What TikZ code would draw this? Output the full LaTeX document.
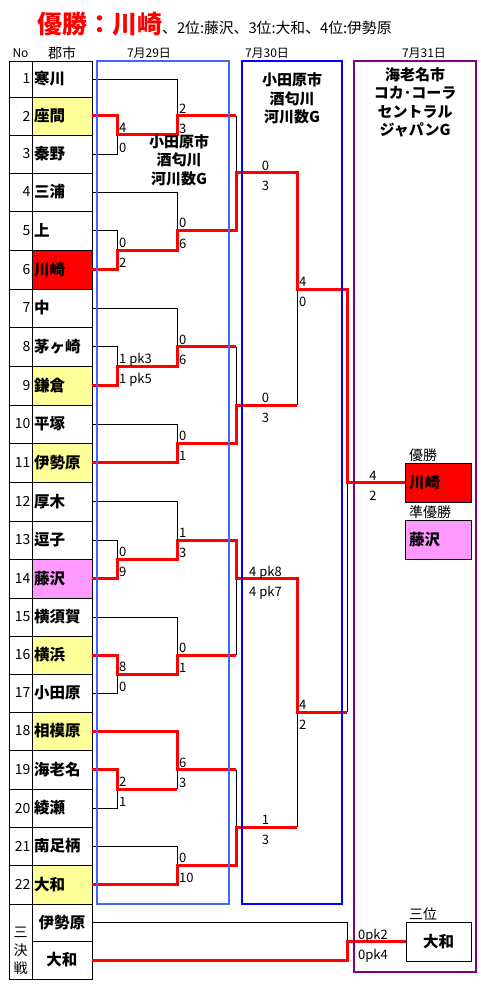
\documentclass[tikz,border=0pt]{standalone}
\usepackage{fontspec}
\setmainfont{Noto Sans CJK JP}
\definecolor{yel}{RGB}{255,255,153}
\definecolor{pnk}{RGB}{255,153,255}
\definecolor{rblue}{RGB}{68,102,255}
\definecolor{dblue}{RGB}{0,0,255}
\definecolor{purp}{RGB}{128,0,128}
\begin{document}
\begin{tikzpicture}[x=1pt,y=-1pt,
  namecell/.style={draw, line width=0.8pt, minimum width=60pt, text width=56pt, inner xsep=2pt, inner ysep=0pt, align=left, font=\bfseries\fontsize{15.5}{15.5}\selectfont},
  numcell/.style={draw, line width=0.8pt, minimum width=23pt, text width=20pt, inner xsep=1.5pt, inner ysep=0pt, align=right, font=\fontsize{14}{14}\selectfont},
  win/.style={draw=red, line width=3pt, line join=miter},
  lose/.style={draw=black, line width=0.9pt},
  sc/.style={font=\fontsize{13}{13}\selectfont, inner sep=0pt},
  hd/.style={font=\fontsize{12}{12}\selectfont, inner sep=0pt},
  glabel/.style={font=\bfseries\fontsize{15}{18.5}\selectfont, align=center, inner sep=0pt},
  daybox/.style={line width=2pt, inner sep=0pt},
  reslabel/.style={font=\fontsize{14}{14}\selectfont, inner sep=0pt, anchor=base west},
  resbox/.style={draw, line width=0.8pt, minimum width=65pt, minimum height=39pt, inner ysep=0pt, font=\bfseries\fontsize{15.5}{15.5}\selectfont}
]
\useasboundingbox (0,0) rectangle (480,984);

% title
\node[anchor=base west, inner sep=0pt] (title) at (37,34)
  {{\color{red}\bfseries\fontsize{25}{25}\selectfont 優勝：川崎}{\fontsize{14.8}{15}\selectfont 、2位:藤沢、3位:大和、4位:伊勢原}};

% headers
\node[hd] (hno) at (20.5,53) {No};
\node[hd, font=\fontsize{14}{14}\selectfont] (hcity) at (62,53) {郡市};
\node[hd] (hd1) at (149,53) {7月29日};
\node[hd] (hd2) at (267,53) {7月30日};
\node[hd] (hd3) at (424,53) {7月31日};

% table
\foreach \i/\c/\h/\nm/\f in {1/79/36/寒川/white, 2/116/38/座間/yel, 3/154/38/秦野/white,
  4/192/38/三浦/white, 5/230.5/39/上/white, 6/269.5/39/川崎/red, 7/308/38/中/white,
  8/346.5/39/茅ヶ崎/white, 9/385.5/39/鎌倉/yel, 10/424/38/平塚/white, 11/462.5/39/伊勢原/yel,
  12/501.5/39/厚木/white, 13/540/38/逗子/white, 14/578.5/39/藤沢/pnk, 15/617/38/横須賀/white,
  16/655/38/横浜/yel, 17/693/38/小田原/white, 18/731/38/相模原/yel, 19/769.5/39/海老名/white,
  20/808/38/綾瀬/white, 21/846/38/南足柄/white, 22/884.5/39/大和/yel}
{
  \node[namecell, fill=\f, minimum height=\h pt] (t\i) at (62,\c) {\nm};
  \node[numcell, minimum height=\h pt] (n\i) at (20.5,\c) {\i};
}
\node[namecell, align=center, minimum height=37pt] (t23) at (62,922.5) {伊勢原};
\node[namecell, align=center, minimum height=38pt] (t24) at (62,960) {大和};
\node[draw, line width=0.8pt, minimum width=23pt, minimum height=75pt, inner sep=0pt] (sk) at (20.5,941.5) {};
\node[font=\fontsize{14}{18}\selectfont, align=center, inner sep=0pt] (sktext) at (20.5,951) {三\\決\\戦};

% result boxes
\node[resbox, fill=red, text width=59pt, align=left] (champ) at (438.5,482.5) {川崎};
\node[resbox, fill=pnk, text width=59pt, align=left] (runner) at (438.5,540) {藤沢};
\node[resbox, fill=white] (third) at (438.5,941.5) {大和};
\node[reslabel] (lchamp) at (409,460) {優勝};
\node[reslabel] (lrunner) at (409,517) {準優勝};
\node[reslabel] (lthird) at (409,919) {三位};

% losing lines
\draw[lose] (t1.east) -| (177,116);
\draw[lose] (t3.east) -| (117,135);
\draw[lose] (t4.east) -| (177,230.5);
\draw[lose] (t5.east) -| (117,250);
\draw[lose] (t7.east) -| (177,346.5);
\draw[lose] (t8.east) -| (117,366);
\draw[lose] (t10.east) -| (177,443);
\draw[lose] (t12.east) -| (177,540);
\draw[lose] (t13.east) -| (117,559);
\draw[lose] (t15.east) -| (177,655);
\draw[lose] (t17.east) -| (117,674);
\draw[lose] (t20.east) -| (117,789);
\draw[lose] (t21.east) -| (177,865);
\draw[lose] (177,789) -- (177,769.5);
\draw[lose] (236,116) -- (236,173);
\draw[lose] (236,346.5) -- (236,405);
\draw[lose] (236,655) -- (236,578.5);
\draw[lose] (236,769.5) -- (236,827);
\draw[lose] (297,405) -- (297,289);
\draw[lose] (297,827) -- (297,712);
\draw[lose] (347,712) -- (347,482.5);
\draw[lose] (t23.east) -| (347,941.5);

% winning lines
\draw[win] (t2.east) -- (117,116) |- (177,135) |- (236,116);
\draw[win] (t6.east) -- (117,269.5) |- (177,250) |- (236,230.5) |- (297,173) |- (347,289) |- (champ.west);
\draw[win] (t9.east) -- (117,385.5) |- (177,366) |- (236,346.5);
\draw[win] (t11.east) -- (177,462.5) |- (236,443) |- (297,405);
\draw[win] (t14.east) -- (117,578.5) |- (177,559) |- (236,540) |- (297,578.5) |- (347,712);
\draw[win] (t16.east) -- (117,655) |- (177,674) |- (236,655);
\draw[win] (t18.east) -- (177,731) |- (236,769.5);
\draw[win] (t19.east) -- (117,769.5) |- (177,789);
\draw[win] (t22.east) -- (177,884.5) |- (236,865) |- (297,827);
\draw[win] (t24.east) -- (347,960) |- (third.west);

% day boxes
\node[daybox, draw=rblue, minimum width=132pt, minimum height=843pt] (day1) at (163,482.5) {};
\node[daybox, draw=dblue, minimum width=100pt, minimum height=843pt] (day2) at (292,482.5) {};
\node[daybox, draw=purp, minimum width=122pt, minimum height=911pt] (day3) at (415,516.5) {};

\node[glabel] (g1) at (179,160) {小田原市\\酒匂川\\河川数G};
\node[glabel] (g2) at (292,98.5) {小田原市\\酒匂川\\河川数G};
\node[glabel] (g3) at (415,102.5) {海老名市\\コカ･コーラ\\セントラル\\ジャパンG};

% scores (left aligned)
\foreach \x/\o/\a/\b [count=\k] in {119/135/4/0, 119/250/0/2, 119/366/1 pk3/1 pk5, 119/559/0/9,
  119/674/8/0, 119/789/2/1, 179/116/2/3, 179/230.5/0/6, 179/346.5/0/6, 179/443/0/1,
  179/540/1/3, 179/655/0/1, 179/769.5/6/3, 179/865/0/10, 299/289/4/0, 299/712/4/2}
{
  \node[sc, anchor=base west] (sa\k) at (\x,\o-2.5) {\a};
  \node[sc, anchor=base west] (sb\k) at (\x,\o+17.5) {\b};
}
% scores (centred)
\foreach \x/\o/\a/\b [count=\k] in {265.5/173/0/3, 265.5/405/0/3, 265.5/578.5/4 pk8/4 pk7,
  265.5/827/1/3, 373/482.5/4/2, 373/941.5/0pk2/0pk4}
{
  \node[sc, anchor=base] (ca\k) at (\x,\o-2.5) {\a};
  \node[sc, anchor=base] (cb\k) at (\x,\o+17.5) {\b};
}
\end{tikzpicture}
\end{document}
